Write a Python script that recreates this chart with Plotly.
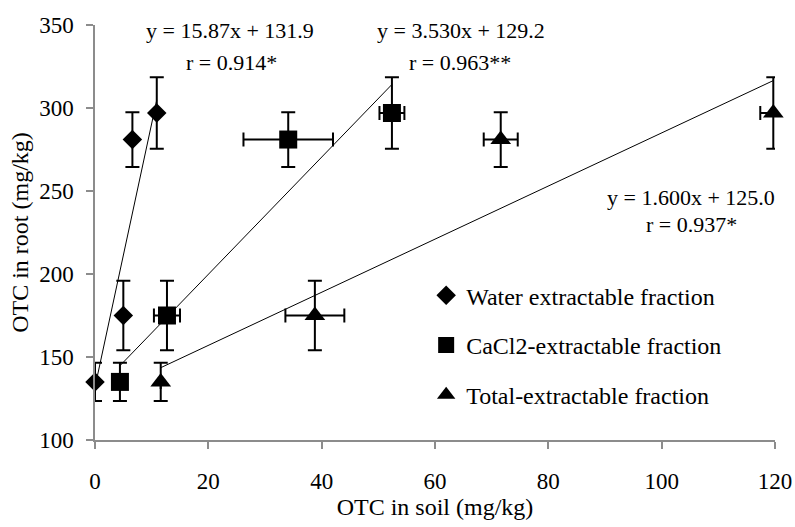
import numpy as np
import plotly.graph_objects as go

# ---- data ----
root_y = [135, 175, 281, 297]          # OTC in root (mg/kg)
root_err = [11.5, 21, 16.5, 21.5]      # error in root

water_x = [0, 5.0, 6.6, 10.9]
water_xerr = [0, 0, 0, 0]

cacl2_x = [4.4, 12.7, 34.1, 52.4]
cacl2_xerr = [0, 2.3, 7.9, 2.2]

total_x = [11.6, 38.8, 71.6, 119.7]
total_xerr = [0, 5.2, 3.0, 2.3]

series_names = ["Water extractable fraction", "CaCl2-extractable fraction", "Total-extractable fraction"]
series_symbols = ["diamond", "square", "triangle-up"]
series_sizes = [15, 18, 18]

slopes = [15.87, 3.530, 1.600]
intercepts = [131.9, 129.2, 125.0]
eq_texts = ["y = 15.87x + 131.9", "y = 3.530x + 129.2", "y = 1.600x + 125.0"]
r_texts = ["r = 0.914*", "r = 0.963**", "r = 0.937*"]

FONT = "Times New Roman, Liberation Serif, DejaVu Serif, serif"
FS = 23

fig = go.Figure()

xs_all = [water_x, cacl2_x, total_x]
xerr_all = [water_xerr, cacl2_xerr, total_xerr]

# trend lines
for xs, m, b in zip(xs_all, slopes, intercepts):
    lx = np.array([min(xs), max(xs)])
    fig.add_trace(go.Scatter(x=lx, y=m * lx + b, mode="lines",
                             line=dict(color="black", width=1),
                             showlegend=False, hoverinfo="skip", cliponaxis=False))

# points
for i, (xs, xe) in enumerate(zip(xs_all, xerr_all)):
    fig.add_trace(go.Scatter(
        x=xs, y=root_y, mode="markers", name=series_names[i],
        legendgroup=f"g{i}",
        marker=dict(symbol=series_symbols[i], size=series_sizes[i], color="black",
                    line=dict(width=0)),
        error_y=dict(type="data", array=root_err, visible=True, color="black",
                     thickness=2, width=7),
        error_x=dict(type="data", array=xe, visible=True, color="black",
                     thickness=2, width=7),
        cliponaxis=False,
    ))

# equation annotations (data-coordinate label positions)
ann_pos = [(23.8, 346.4, 24.0, 327.4), (64.6, 346.4, 64.4, 327.4), (105.1, 246.0, 105.3, 230.0)]
for (ex, ey, rx, ry), et, rt in zip(ann_pos, eq_texts, r_texts):
    fig.add_annotation(x=ex, y=ey, text=et, showarrow=False, xref="x", yref="y",
                       font=dict(family=FONT, size=22, color="black"))
    fig.add_annotation(x=rx, y=ry, text=rt, showarrow=False, xref="x", yref="y",
                       font=dict(family=FONT, size=22, color="black"))

axis_common = dict(showline=True, linecolor="#8c8c8c", linewidth=1.5,
                   ticks="outside", ticklen=7, tickcolor="#8c8c8c", tickwidth=1.5,
                   showgrid=False, zeroline=False, automargin=False,
                   tickfont=dict(family=FONT, size=FS, color="black"))

fig.update_layout(
    width=795, height=527,
    margin=dict(l=95, r=20, t=25, b=87),
    paper_bgcolor="white", plot_bgcolor="white",
    font=dict(family=FONT, size=FS, color="black"),
    xaxis=dict(range=[0, 120], dtick=20, tick0=0,
               title=dict(text="OTC in soil (mg/kg)", font=dict(family=FONT, size=24), standoff=4),
               ticklabelstandoff=13, **axis_common),
    yaxis=dict(range=[100, 350], dtick=50, tick0=100,
               title=dict(text="OTC in root (mg/kg)", font=dict(family=FONT, size=24), standoff=4),
               ticklabelstandoff=8, **axis_common),
    legend=dict(x=0.487, y=0.402, xanchor="left", yanchor="top",
                bgcolor="rgba(0,0,0,0)", tracegroupgap=15.5,
                font=dict(family=FONT, size=24, color="black")),
    showlegend=True,
)

fig.write_html("out.html")
